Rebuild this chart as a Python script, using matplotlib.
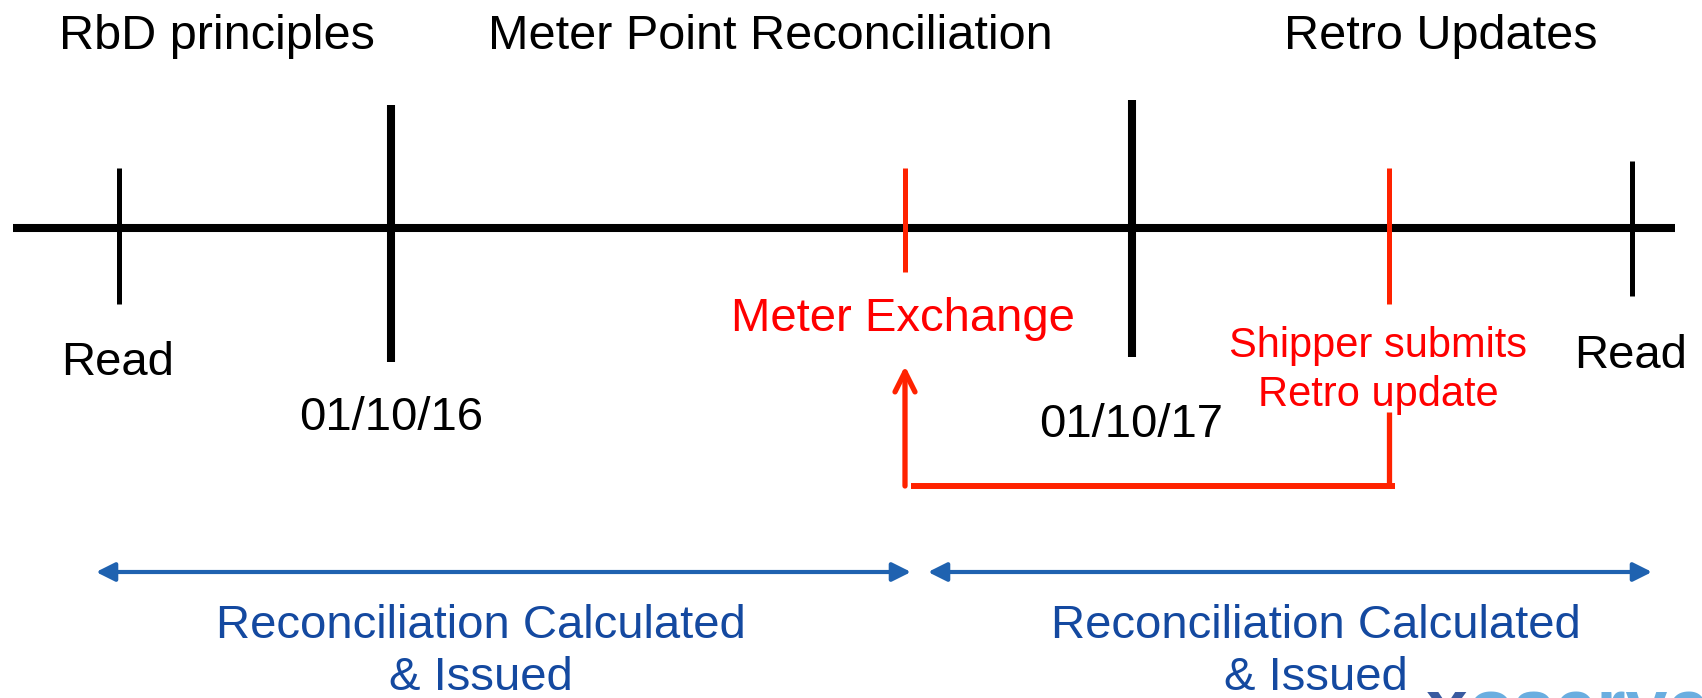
import matplotlib
matplotlib.use("Agg")
import matplotlib.pyplot as plt

# ---------------- data ----------------
section_titles = ["RbD principles", "Meter Point Reconciliation", "Retro Updates"]
section_title_x = [217, 770, 1441]

timeline_span = [13, 1675]
timeline_y = 228

event_x = [119, 391, 905, 1132, 1389, 1632]
event_top = [168, 105, 168, 100, 168, 161]
event_bottom = [304, 362, 272, 357, 304, 296]
event_kind = ["read", "date", "event", "date", "event", "read"]

event_labels = [["Read"], ["01/10/16"], ["Meter Exchange"], ["01/10/17"],
                ["Shipper submits", "Retro update"], ["Read"]]
label_x = [118, 391, 903, 1131, 1378, 1631]
label_y = [375, 430, 331, 437, 357, 368]

# retro-update link: from shipper submission back to meter exchange
link_from_x = 1389
link_to_x = 905
link_y = 486
link_from_top = 412
link_tip_y = 366

recon_periods = [[96, 911], [928, 1652]]
recon_y = 572
recon_text = ["Reconciliation Calculated", "& Issued"]
recon_text_x = [481, 1316]
recon_text_y = [638, 690]

# ---------------- styles ----------------
BLACK = "#000000"
RED_LINE = "#FF2200"
RED_TEXT = "#FF0000"
BLUE_LINE = "#1F62B0"
BLUE_TEXT = "#1449A0"

W, H = 1702, 698
plt.rcParams["font.family"] = ["Liberation Sans", "DejaVu Sans"]
fig = plt.figure(figsize=(W / 100, H / 100), dpi=100)
ax = fig.add_axes([0, 0, 1, 1])
ax.set_xlim(0, W)
ax.set_ylim(H, 0)
ax.axis("off")

# section titles
for t, x in zip(section_titles, section_title_x):
    ax.text(x, 49, t, ha="center", va="baseline", fontsize=35, color=BLACK)

# main timeline
ax.plot(timeline_span, [timeline_y, timeline_y], color=BLACK, lw=5.8,
        solid_capstyle="butt", zorder=2)

tick_style = {"read": (BLACK, 3.6), "date": (BLACK, 5.8), "event": (RED_LINE, 3.6)}
for x, t, b, k in zip(event_x, event_top, event_bottom, event_kind):
    c, lw = tick_style[k]
    ax.plot([x, x], [t, b], color=c, lw=lw, solid_capstyle="butt", zorder=3)

for lines, x, y, k in zip(event_labels, label_x, label_y, event_kind):
    color = RED_TEXT if k == "event" else BLACK
    fs = 30 if len(lines) > 1 else 34
    for i, ln in enumerate(lines):
        ax.text(x, y + i * 49, ln, ha="center", va="baseline", fontsize=fs, color=color)

# retro update link arrow
ax.plot([link_from_x, link_from_x], [link_from_top, link_y], color=RED_LINE, lw=3.8,
        solid_capstyle="butt")
ax.plot([link_to_x + 6, link_from_x + 6], [link_y, link_y], color=RED_LINE, lw=4.3,
        solid_capstyle="butt")
ax.annotate("", xy=(link_to_x, link_tip_y), xytext=(link_to_x, link_y),
            arrowprops=dict(arrowstyle="->", color=RED_LINE, lw=3.8,
                            mutation_scale=36, shrinkA=0, shrinkB=0))

# reconciliation periods
for (x0, x1), tx in zip(recon_periods, recon_text_x):
    ax.annotate("", xy=(x1, recon_y), xytext=(x0, recon_y),
                arrowprops=dict(arrowstyle="<|-|>", color=BLUE_LINE, lw=3,
                                mutation_scale=28, shrinkA=0, shrinkB=0))
    for ln, ty in zip(recon_text, recon_text_y):
        ax.text(tx, ty, ln, ha="center", va="baseline", fontsize=34, color=BLUE_TEXT)

# partially visible logo at the bottom-right edge
ax.text(1425, 731, "x", ha="left", va="baseline", fontsize=54, fontweight="bold",
        color="#3A5BA0")
ax.text(1467, 731, "oserve", ha="left", va="baseline", fontsize=54, fontweight="bold",
        color="#6AAEE0")

fig.savefig("out.png", dpi=100)
